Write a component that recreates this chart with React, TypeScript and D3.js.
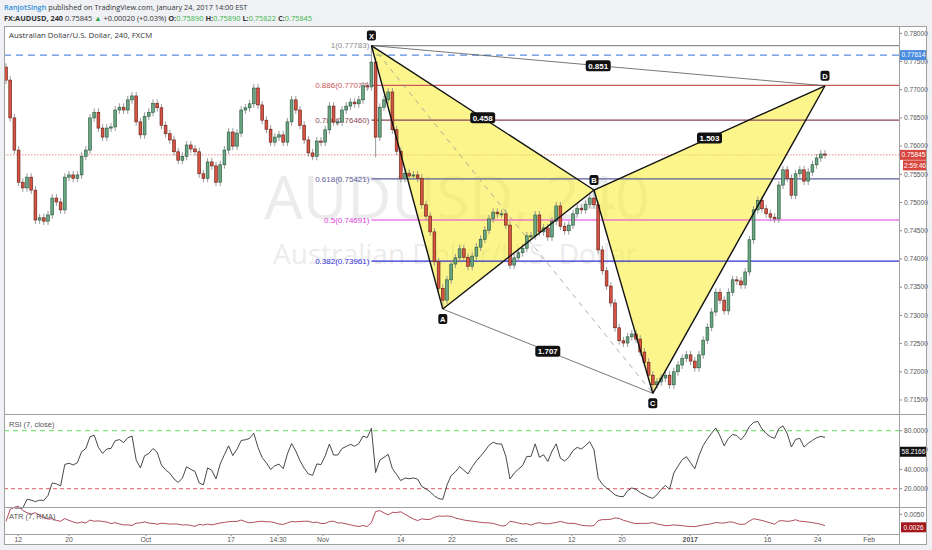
import * as d3 from "d3";

// AUDUSD 240 closes (one candle per ~half trading day)
const closes = [
  0.7717, 0.7650, 0.7593, 0.7536, 0.7526, 0.7545, 0.7522, 0.7469, 0.7473, 0.7467,
  0.7478, 0.7508, 0.7501, 0.7487, 0.7545, 0.7549, 0.7543, 0.7549, 0.7582, 0.7593,
  0.7650, 0.7660, 0.7632, 0.7616, 0.7632, 0.7634, 0.7664, 0.7669, 0.7664, 0.7682,
  0.7689, 0.7643, 0.7620, 0.7653, 0.7660, 0.7676, 0.7668, 0.7637, 0.7622, 0.7611,
  0.7590, 0.7575, 0.7582, 0.7602, 0.7595, 0.7590, 0.7551, 0.7543, 0.7572, 0.7565,
  0.7536, 0.7567, 0.7593, 0.7625, 0.7600, 0.7623, 0.7664, 0.7668, 0.7675, 0.7703,
  0.7673, 0.7646, 0.7630, 0.7607, 0.7616, 0.7620, 0.7607, 0.7643, 0.7682, 0.7664,
  0.7637, 0.7611, 0.7588, 0.7582, 0.7609, 0.7607, 0.7629, 0.7671, 0.7643, 0.7643,
  0.7664, 0.7671, 0.7678, 0.7675, 0.7682, 0.7707, 0.7705, 0.7749, 0.7616, 0.7669,
  0.7682, 0.7696, 0.7629, 0.7591, 0.7543, 0.7552, 0.7547, 0.7549, 0.7543, 0.7496,
  0.7476, 0.7448, 0.7395, 0.7348, 0.7327, 0.7363, 0.7391, 0.7402, 0.7418, 0.7403,
  0.7387, 0.7405, 0.7421, 0.7435, 0.7451, 0.7471, 0.7483, 0.7480, 0.7480, 0.7460,
  0.7389, 0.7402, 0.7411, 0.7419, 0.7441, 0.7441, 0.7478, 0.7448, 0.7455, 0.7439,
  0.7467, 0.7494, 0.7458, 0.7450, 0.7460, 0.7480, 0.7490, 0.7487, 0.7497, 0.7508,
  0.7496, 0.7416, 0.7379, 0.7352, 0.7322, 0.7278, 0.7255, 0.7251, 0.7262, 0.7267,
  0.7258, 0.7235, 0.7217, 0.7194, 0.7177, 0.7182, 0.7189, 0.7194, 0.7177, 0.7200,
  0.7212, 0.7224, 0.7230, 0.7219, 0.7207, 0.7230, 0.7256, 0.7279, 0.7306, 0.7341,
  0.7327, 0.7308, 0.7341, 0.7363, 0.7361, 0.7354, 0.7377, 0.7434, 0.7487, 0.7504,
  0.7489, 0.7480, 0.7474, 0.7471, 0.7531, 0.7558, 0.7543, 0.7513, 0.7551, 0.7558,
  0.7538, 0.7554, 0.7567, 0.7579, 0.7586, 0.75845,
];
const firstOpen = 0.774;
const WICK = 0.0007;
// wicks that stick out further than usual
const extremes = [
  { i: 87, high: 0.77783 },
  { i: 88, low: 0.758 },
  { i: 104, low: 0.73112 },
  { i: 140, high: 0.75222 },
  { i: 154, low: 0.71618 },
];

const fibLevels = [
  { ratio: "1", price: 0.77783 },
  { ratio: "0.886", price: 0.77077 },
  { ratio: "0.786", price: 0.7646 },
  { ratio: "0.618", price: 0.75421 },
  { ratio: "0.5", price: 0.74691 },
  { ratio: "0.382", price: 0.73961 },
];
const fibColors: Record<string, string> = {
  "1": "#8c8c8c",
  "0.886": "#c9575a",
  "0.786": "#8a4456",
  "0.618": "#5d5d9c",
  "0.5": "#e23be2",
  "0.382": "#2f2fd4",
};

const points = [
  { name: "X", i: 87, price: 0.77783 },
  { name: "A", i: 104, price: 0.73112 },
  { name: "B", i: 140, price: 0.75222 },
  { name: "C", i: 154, price: 0.71618 },
  { name: "D", i: 195, price: 0.7707 },
];
const ratios = [
  { from: "X", to: "D", value: "0.851" },
  { from: "X", to: "B", value: "0.458" },
  { from: "B", to: "D", value: "1.503" },
  { from: "A", to: "C", value: "1.707" },
];

const alertPrice = 0.77614;
const lastPrice = 0.75845;
const priceTicks = [0.715, 0.72, 0.725, 0.73, 0.735, 0.74, 0.745, 0.75, 0.755, 0.76, 0.765, 0.77, 0.775, 0.78];
const rsiTicks = [80, 60, 40, 20];
const timeTicks = [
  { label: "12", i: 2.9 },
  { label: "20", i: 15 },
  { label: "Oct", i: 33.3 },
  { label: "17", i: 53.6 },
  { label: "14:30", i: 64.8 },
  { label: "Nov", i: 75.5 },
  { label: "14", i: 94 },
  { label: "22", i: 106.2 },
  { label: "Dec", i: 120.4 },
  { label: "12", i: 134.7 },
  { label: "20", i: 146.7 },
  { label: "2017", i: 162.9 },
  { label: "16", i: 181.3 },
  { label: "24", i: 193.3 },
  { label: "Feb", i: 205.5 },
];

const W = 932;
const H = 550;
const L = 4;
const R = 899;
const RR = 927;
const mainTop = 26;
const mainBot = 414;
const rsiBot = 507;
const atrBot = 534;
const axisBot = 545;
const axisFont = "Liberation Sans, Arial, sans-serif";

function buildCandles() {
  return closes.map((c, i) => {
    const o = i === 0 ? firstOpen : closes[i - 1];
    const ex = extremes.find((e) => e.i === i);
    const high = ex && ex.high !== undefined ? ex.high : Math.max(o, c) + WICK;
    const low = ex && ex.low !== undefined ? ex.low : Math.min(o, c) - WICK;
    return { i, o, c, high, low };
  });
}

function computeRsi(values: number[], n: number) {
  const out: { i: number; v: number }[] = [];
  let ag = 0;
  let al = 0;
  for (let i = 1; i < values.length; i++) {
    const d = values[i] - values[i - 1];
    const k = Math.min(i, n);
    ag = (ag * (k - 1) + Math.max(d, 0)) / k;
    al = (al * (k - 1) + Math.max(-d, 0)) / k;
    out.push({ i, v: al === 0 ? 100 : 100 - 100 / (1 + ag / al) });
  }
  return out;
}

function computeAtr(cs: ReturnType<typeof buildCandles>, n: number) {
  const out: { i: number; v: number }[] = [];
  let atr = 0;
  cs.forEach((c, i) => {
    const prev = i === 0 ? c.o : cs[i - 1].c;
    const tr = Math.max(c.high - c.low, Math.abs(c.high - prev), Math.abs(c.low - prev));
    const k = Math.min(i + 1, n);
    atr = (atr * (k - 1) + tr) / k;
    out.push({ i, v: atr });
  });
  return out;
}

function Tag({ x, y, text, w, bg }: { x: number; y: number; text: string; w: number; bg: string }) {
  return (
    <g>
      <rect x={x} y={y - 5} width={w} height={10} fill={bg} />
      <text x={x + w / 2} y={y + 2.4} textAnchor="middle" fontSize={6.6} fontFamily={axisFont} fill="#fff">
        {text}
      </text>
    </g>
  );
}

export default function App() {
  const candles = buildCandles();
  const x = d3.scaleLinear().domain([0, closes.length - 1]).range([6, 825]);
  const y = d3.scaleLinear().domain([0.715, 0.78]).range([400, 33.3]);
  const yRsi = d3.scaleLinear().domain([20, 80]).range([488.7, 430.7]);
  const yAtr = d3.scaleLinear().domain([0.0026, 0.005]).range([527.3, 514.3]);

  const rsi = computeRsi(closes, 7).filter((d) => d.i >= 2);
  const atr = computeAtr(candles, 7);
  const rsiLine = d3.line<{ i: number; v: number }>().x((d) => x(d.i)).y((d) => yRsi(d.v));
  const atrLine = d3.line<{ i: number; v: number }>().x((d) => x(d.i)).y((d) => yAtr(d.v));

  const P = Object.fromEntries(points.map((p) => [p.name, [x(p.i), y(p.price)] as [number, number]]));
  const tri = (a: string, b: string, c: string) => [P[a], P[b], P[c]].map((p) => p.join(",")).join(" ");
  const seg = (a: string, b: string, w: number, col: string, dash?: string) => (
    <line key={a + b} x1={P[a][0]} y1={P[a][1]} x2={P[b][0]} y2={P[b][1]} stroke={col} strokeWidth={w} strokeDasharray={dash} />
  );
  const xFib = P.X[0];
  const fmt5 = d3.format(".5f");

  return (
    <svg width={W} height={H} style={{ position: "absolute", left: 0, top: 0 }} xmlns="http://www.w3.org/2000/svg">
      <defs>
        <clipPath id="main">
          <rect x={L} y={mainTop} width={R - L} height={mainBot - mainTop} />
        </clipPath>
        <clipPath id="sub">
          <rect x={L} y={mainBot} width={R - L} height={atrBot - mainBot} />
        </clipPath>
      </defs>
      <rect width={W} height={H} fill="#eff1f5" />
      <rect x={L} y={mainTop} width={RR - L} height={axisBot - mainTop} fill="#fff" />

      {/* watermark */}
      <text x={457} y={219} textAnchor="middle" fontSize={61} fontFamily="Open Sans, sans-serif" fill="#ececec">
        AUDUSD, 240
      </text>
      <text x={455} y={264} textAnchor="middle" fontSize={28} fontFamily="Open Sans, sans-serif" fill="#ececec">
        Australian Dollar/U.S. Dollar
      </text>

      <g clipPath="url(#main)">
        <line x1={L} x2={R} y1={y(alertPrice)} y2={y(alertPrice)} stroke="#5b8fdc" strokeWidth={1.3} strokeDasharray="7,5" />
        <line x1={L} x2={R} y1={y(lastPrice)} y2={y(lastPrice)} stroke="#e06c6c" strokeWidth={0.8} strokeDasharray="1.5,1.5" />

        <polygon points={tri("X", "A", "B")} fill="#f9ee3f" fillOpacity={0.6} />
        <polygon points={tri("B", "C", "D")} fill="#f9ee3f" fillOpacity={0.6} />

        {fibLevels.map((f) => (
          <g key={f.ratio}>
            <line x1={xFib} x2={R} y1={y(f.price)} y2={y(f.price)} stroke={fibColors[f.ratio]} strokeWidth={1.2} />
            <text x={xFib - 2} y={y(f.price) + 2.8} textAnchor="end" fontSize={8} fontFamily={axisFont} fill={fibColors[f.ratio]}>
              {`${f.ratio}(${fmt5(f.price)})`}
            </text>
          </g>
        ))}
        {seg("X", "C", 0.8, "#999", "5,5")}

        {candles.map((d) => {
          const up = d.c >= d.o;
          const cx = x(d.i);
          const top = y(Math.max(d.o, d.c));
          const h = Math.max(1, Math.abs(y(d.o) - y(d.c)));
          return (
            <g key={d.i}>
              <line x1={cx} x2={cx} y1={y(d.high)} y2={y(d.low)} stroke="#8f8f8f" strokeWidth={0.9} />
              <rect x={cx - 1.4} y={top} width={2.8} height={h} fill={up ? "#6ba583" : "#d75442"} stroke={up ? "#225437" : "#5b1a13"} strokeWidth={0.6} />
            </g>
          );
        })}

        {seg("X", "D", 0.8, "#555")}
        {seg("A", "C", 0.8, "#555")}
        {seg("X", "A", 1.4, "#111")}
        {seg("A", "B", 1.4, "#111")}
        {seg("X", "B", 1.4, "#111")}
        {seg("B", "C", 1.4, "#111")}
        {seg("C", "D", 1.4, "#111")}
        {seg("B", "D", 1.4, "#111")}

        {ratios.map((r) => {
          const mx = (P[r.from][0] + P[r.to][0]) / 2;
          const my = (P[r.from][1] + P[r.to][1]) / 2;
          return (
            <g key={r.value}>
              <rect x={mx - 12.5} y={my - 5.5} width={25} height={11} rx={2.5} fill="#111" />
              <text x={mx} y={my + 3} textAnchor="middle" fontSize={8} fontWeight={700} fontFamily={axisFont} fill="#fff">
                {r.value}
              </text>
            </g>
          );
        })}
        {points.map((p) => {
          const below = p.name === "A" || p.name === "C";
          const [px, py] = P[p.name];
          const cy = below ? py + 10 : py - 10;
          return (
            <g key={p.name}>
              <rect x={px - 4.5} y={cy - 5} width={9} height={10} rx={2} fill="#111" />
              <text x={px} y={cy + 3} textAnchor="middle" fontSize={7.5} fontWeight={700} fontFamily={axisFont} fill="#fff">
                {p.name}
              </text>
            </g>
          );
        })}
      </g>

      {/* sub panes */}
      <g clipPath="url(#sub)">
        <line x1={L} x2={R} y1={yRsi(80)} y2={yRsi(80)} stroke="#5ee05e" strokeWidth={1} strokeDasharray="5,4" />
        <line x1={L} x2={R} y1={yRsi(20)} y2={yRsi(20)} stroke="#e05a6a" strokeWidth={1} strokeDasharray="4,3" />
        <path d={rsiLine(rsi) || ""} fill="none" stroke="#333" strokeWidth={0.9} />
        <path d={atrLine(atr) || ""} fill="none" stroke="#a8384c" strokeWidth={0.9} />
      </g>
      <text x={9} y={427} fontSize={7.5} fontFamily={axisFont} fill="#555">RSI (7, close)</text>
      <text x={9} y={519} fontSize={7.5} fontFamily={axisFont} fill="#555">ATR (7, RMA)</text>
      <text x={9} y={38} fontSize={7.8} fontFamily="Open Sans, sans-serif" fill="#333">Australian Dollar/U.S. Dollar, 240, FXCM</text>

      {/* right axis */}
      {priceTicks.map((p) => (
        <g key={p}>
          <line x1={R} x2={R + 3} y1={y(p)} y2={y(p)} stroke="#888" />
          <text x={R + 5} y={y(p) + 2.3} fontSize={6.6} fontFamily={axisFont} fill="#555">{fmt5(p)}</text>
        </g>
      ))}
      <Tag x={R + 1} y={y(alertPrice)} w={RR - R - 1} text={fmt5(alertPrice)} bg="#4a8de0" />
      <Tag x={R + 1} y={y(lastPrice)} w={RR - R - 1} text={fmt5(lastPrice)} bg="#d8453e" />
      <Tag x={R + 4} y={y(lastPrice) + 10.5} w={RR - R - 4} text="2:59:46" bg="#d8453e" />
      {rsiTicks.map((v) => (
        <g key={v}>
          <line x1={R} x2={R + 3} y1={yRsi(v)} y2={yRsi(v)} stroke="#888" />
          <text x={R + 5} y={yRsi(v) + 2.3} fontSize={6.6} fontFamily={axisFont} fill="#555">{v.toFixed(4)}</text>
        </g>
      ))}
      <Tag x={R + 1} y={yRsi(58.2166)} w={RR - R - 1} text="58.2166" bg="#111" />
      <line x1={R} x2={R + 3} y1={yAtr(0.005)} y2={yAtr(0.005)} stroke="#888" />
      <text x={R + 5} y={yAtr(0.005) + 2.3} fontSize={6.6} fontFamily={axisFont} fill="#555">0.0050</text>
      <Tag x={R + 2} y={yAtr(0.0026)} w={RR - R - 3} text="0.0026" bg="#a3161b" />

      {/* time axis */}
      {timeTicks.map((t, k) => (
        <g key={k}>
          <line x1={x(t.i)} x2={x(t.i)} y1={atrBot} y2={atrBot + 2} stroke="#888" />
          <text x={x(t.i)} y={542} textAnchor="middle" fontSize={6.8} fontWeight={t.label === "2017" ? 700 : 400} fontFamily={axisFont} fill="#555">
            {t.label}
          </text>
        </g>
      ))}

      {/* frame */}
      <g stroke="#a0a0a0" strokeWidth={1} fill="none">
        <rect x={L + 0.5} y={mainTop + 0.5} width={RR - L - 1} height={axisBot - mainTop - 1} />
        <line x1={R + 0.5} x2={R + 0.5} y1={mainTop} y2={axisBot} />
        <line x1={L} x2={RR} y1={mainBot + 0.5} y2={mainBot + 0.5} />
        <line x1={L} x2={RR} y1={rsiBot + 0.5} y2={rsiBot + 0.5} />
        <line x1={L} x2={R} y1={atrBot + 0.5} y2={atrBot + 0.5} />
      </g>

      {/* header */}
      <text x={4} y={10} fontSize={7.3} fontFamily="Open Sans, sans-serif" fill="#333">
        <tspan fill="#2f8fd8" fontWeight={600}>RanjotSingh</tspan>
        <tspan> published on TradingView.com, January 24, 2017 14:00 EST</tspan>
      </text>
      <text x={4} y={20.5} fontSize={7.4} fontFamily="Open Sans, sans-serif" fill="#333">
        <tspan fontWeight={700}>FX:AUDUSD, 240</tspan>
        <tspan> 0.75845 </tspan>
        <tspan fill="#2aa84a">▲</tspan>
        <tspan> +0.00020 (+0.03%) </tspan>
        <tspan fontWeight={700}>O:</tspan>
        <tspan fill="#3bb54a">0.75890 </tspan>
        <tspan fontWeight={700}>H:</tspan>
        <tspan fill="#3bb54a">0.75890 </tspan>
        <tspan fontWeight={700}>L:</tspan>
        <tspan fill="#3bb54a">0.75822 </tspan>
        <tspan fontWeight={700}>C:</tspan>
        <tspan fill="#3bb54a">0.75845</tspan>
      </text>
    </svg>
  );
}
